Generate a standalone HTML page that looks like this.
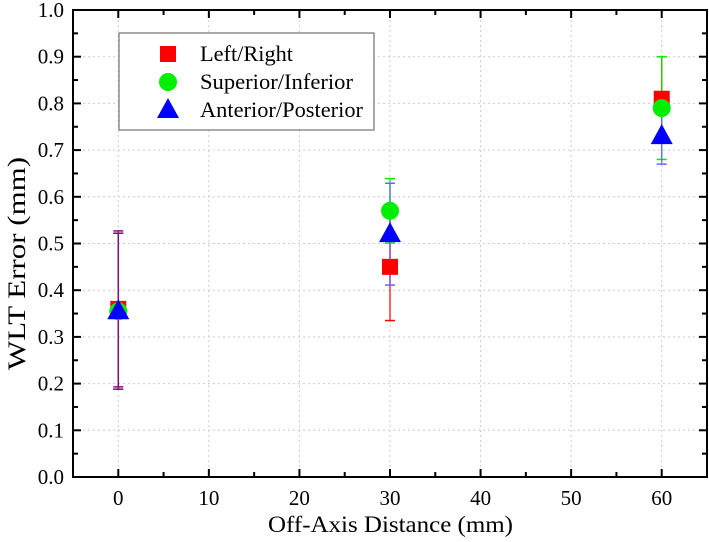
<!DOCTYPE html>
<html><head><meta charset="utf-8"><style>
body{margin:0;background:#fff}
svg{display:block;font-family:"Liberation Serif",serif}
</style></head><body>
<svg id="c" width="709" height="542"></svg>
<script>
const categories=[0,30,60];
const seriesNames=["Left/Right","Superior/Inferior","Anterior/Posterior"];
const lrValues=[0.36,0.45,0.81];
const lrErr=[0.167,0.115,0.09];
const siValues=[0.355,0.57,0.79];
const siErr=[0.167,0.069,0.11];
const apValues=[0.355,0.52,0.73];
const apErr=[0.167,0.109,0.06];
const xTicks=[0,10,20,30,40,50,60];
const yTicks=[0,0.1,0.2,0.3,0.4,0.5,0.6,0.7,0.8,0.9,1.0];
const NS="http://www.w3.org/2000/svg";
const svg=document.getElementById('c');
const L=73,R=707,T=10,B=477;
const X=v=>L+(v+5)/70*(R-L);
const Y=v=>B-v*(B-T);
function mk(tag,a,parent){const e=document.createElementNS(NS,tag);for(const k in a)e.setAttribute(k,a[k]);(parent||svg).appendChild(e);return e;}
xTicks.forEach(t=>{const g=mk('line',{x1:X(t),x2:X(t),y1:T,y2:B,stroke:'#ccc','stroke-dasharray':'2,3','stroke-width':1});

});
yTicks.forEach(t=>{const g=mk('line',{x1:L,x2:R,y1:Y(t),y2:Y(t),stroke:'#ccc','stroke-dasharray':'2,3','stroke-width':1});

});
const fr=mk('rect',{x:L,y:T,width:R-L,height:B-T,fill:'none',stroke:'#000','stroke-width':2});


for(let t=0;t<65;t+=5){const len=(t%10===0)?8:5;
mk('line',{x1:X(t),x2:X(t),y1:B,y2:B-len,stroke:'#000','stroke-width':2});
mk('line',{x1:X(t),x2:X(t),y1:T,y2:T+len,stroke:'#000','stroke-width':2});}
for(let i=0;i<=20;i++){const v=i*0.05;const len=(i%2===0)?8:5;
mk('line',{x1:L,x2:L+len,y1:Y(v),y2:Y(v),stroke:'#000','stroke-width':2});
mk('line',{x1:R,x2:R-len,y1:Y(v),y2:Y(v),stroke:'#000','stroke-width':2});}
xTicks.forEach(t=>{const e=mk('text',{x:X(t),y:B+28,'text-anchor':'middle','font-size':21});e.textContent=t;

});
yTicks.forEach(t=>{const e=mk('text',{x:L-9,y:Y(t)+7,'text-anchor':'end','font-size':21});e.textContent=t.toFixed(1);

});
const xt=mk('text',{x:268,y:532,'font-size':23,textLength:245,lengthAdjust:'spacingAndGlyphs'});xt.textContent='Off-Axis Distance (mm)';


const yt=mk('text',{x:0,y:0,'font-size':25,textLength:213,lengthAdjust:'spacingAndGlyphs',transform:`translate(25,370) rotate(-90)`});yt.textContent='WLT Error (mm)';


const colors=['#f00','#0e0','#00f'];
const errCol=['#f00','#0e0','#66f'];
const vals=[lrValues,siValues,apValues],errs=[lrErr,siErr,apErr];
function marker(s,cx,cy,parent){
 if(s===0)return mk('rect',{x:cx-8,y:cy-8,width:16,height:16,fill:colors[0]},parent);
 if(s===1)return mk('circle',{cx:cx,cy:cy,r:9,fill:colors[1]},parent);
 return mk('polygon',{points:`${cx},${cy-12} ${cx-11},${cy+8} ${cx+11},${cy+8}`,fill:colors[2]},parent);}
[0,1,2].forEach(s=>{categories.forEach((c,i)=>{const x=X(c),lo=Y(vals[s][i]-errs[s][i]),hi=Y(vals[s][i]+errs[s][i]);
const col=i===0?'#80127a':errCol[s];
const g=mk('g',{});


mk('line',{x1:x,x2:x,y1:lo,y2:hi,stroke:col,'stroke-width':1.5,opacity:0.8},g);
mk('line',{x1:x-5,x2:x+5,y1:lo,y2:lo,stroke:col,'stroke-width':1.5},g);
mk('line',{x1:x-5,x2:x+5,y1:hi,y2:hi,stroke:col,'stroke-width':1.5},g);});});
[0,1,2].forEach(s=>{categories.forEach((c,i)=>{const m=marker(s,X(c),Y(vals[s][i]));

});});
const lg=mk('g',{});


mk('rect',{x:119,y:33,width:255,height:97,fill:'#fff',stroke:'#555','stroke-width':1},lg);
const legLens=[93,153,163];
seriesNames.forEach((n,s)=>{const y=54+s*28;marker(s,168,y,lg);
const t=mk('text',{x:200,y:y+7,'font-size':22,textLength:legLens[s],lengthAdjust:'spacingAndGlyphs'},lg);t.textContent=n;

});
</script>
</body></html>
